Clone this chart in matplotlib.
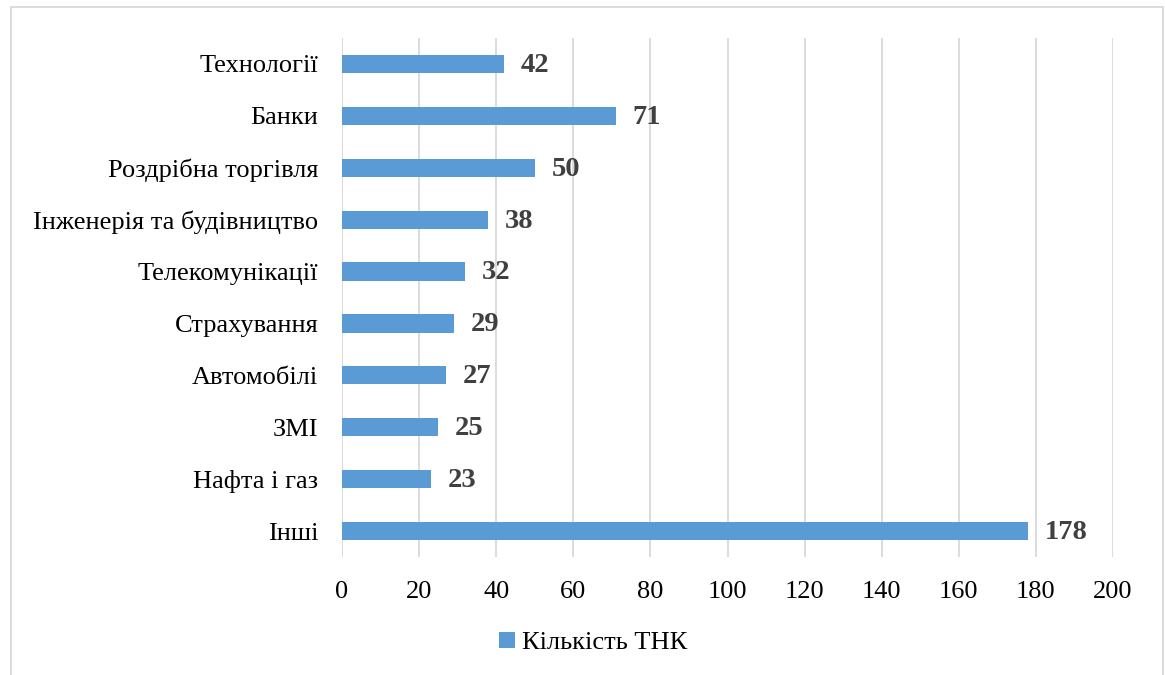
import matplotlib.pyplot as plt
from matplotlib.patches import Rectangle

categories = ['Технології', 'Банки', 'Роздрібна торгівля', 'Інженерія та будівництво',
              'Телекомунікації', 'Страхування', 'Автомобілі', 'ЗМІ', 'Нафта і газ', 'Інші']
values = [42, 71, 50, 38, 32, 29, 27, 25, 23, 178]
series_name = 'Кількість ТНК'
xticks = [0, 20, 40, 60, 80, 100, 120, 140, 160, 180, 200]

BAR_COLOR = '#5B9BD5'
GRID_COLOR = '#D9D9D9'

plt.rcParams['font.family'] = ['Liberation Serif', 'DejaVu Serif']

fig = plt.figure(figsize=(11.65, 6.75), dpi=100)
# outer chart border
fig.patches.append(Rectangle((11 / 1165, -0.01), (1163 - 11) / 1165, 1 - 7 / 675 + 0.01,
                             transform=fig.transFigure, fill=False,
                             edgecolor=GRID_COLOR, linewidth=1.3))

ax = fig.add_axes([342 / 1165, 1 - 557 / 675, (1113 - 342) / 1165, (557 - 38) / 675])
ypos = list(range(len(categories)))[::-1]
bars = ax.barh(ypos, values, height=0.35, color=BAR_COLOR, label=series_name, zorder=3)

for b, v in zip(bars, values):
    ax.annotate(str(v), (b.get_width(), b.get_y() + b.get_height() / 2),
                xytext=(12, -1), textcoords='offset points', va='center', ha='left',
                fontsize=20.5, fontweight='bold', color='#404040')

ax.set_xlim(0, 200)
ax.set_ylim(-0.5, len(categories) - 0.5)
ax.set_xticks(xticks)
ax.set_yticks(ypos)
ax.set_yticklabels(categories)
ax.tick_params(axis='both', length=0, labelsize=19)
ax.tick_params(axis='x', pad=17)
ax.tick_params(axis='y', pad=17)
ax.grid(axis='x', color=GRID_COLOR, linewidth=1.3, zorder=0)
for s in ax.spines.values():
    s.set_visible(False)

fig.legend(handles=[bars], labels=[series_name], loc='center',
           bbox_to_anchor=(593 / 1165, 1 - 643 / 675), frameon=False,
           fontsize=19, handlelength=0.6, handleheight=0.6, handletextpad=0.25)

fig.savefig('out.png', dpi=100)
